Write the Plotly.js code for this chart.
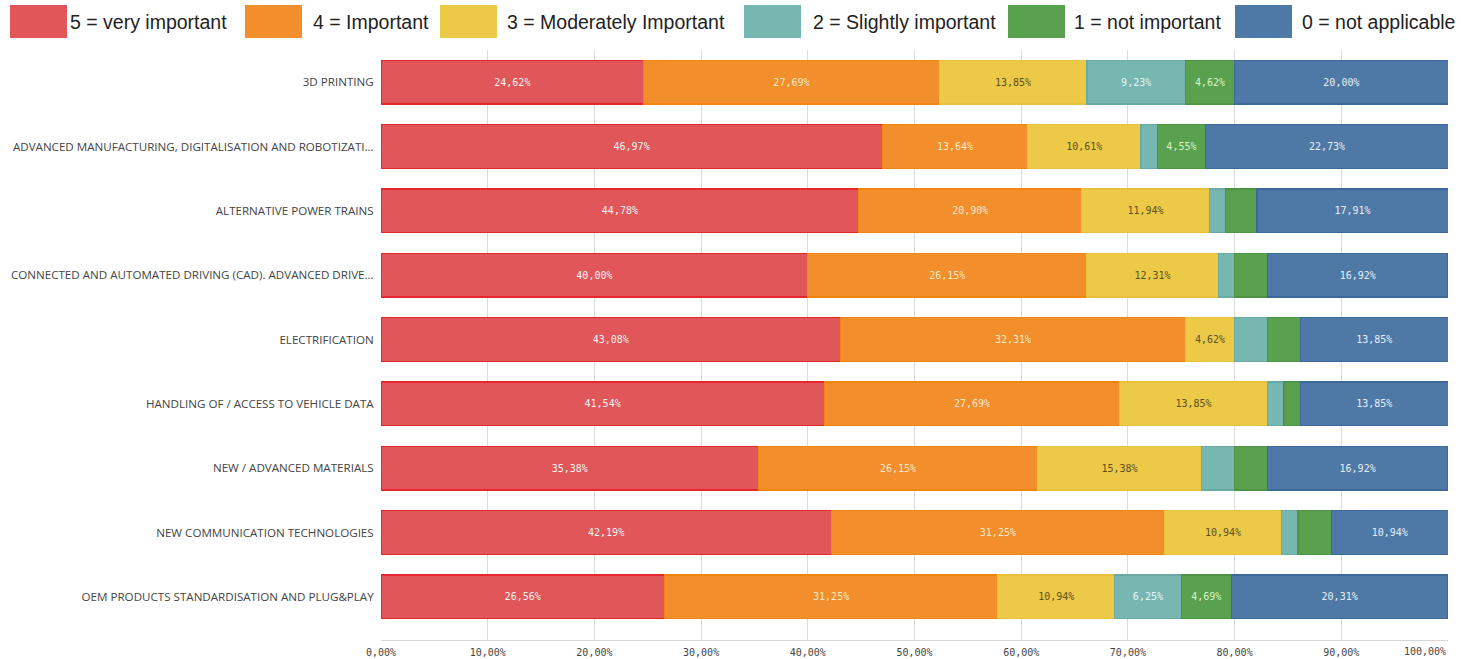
<!DOCTYPE html>
<html>
<head>
<meta charset="utf-8">
<script src="https://cdn.plot.ly/plotly-3.0.1.min.js"></script>
<style>html,body{margin:0;padding:0;background:#fff;}#chart{width:1461px;height:659px;}</style>
</head>
<body>
<div id="chart"></div>
<script>
// ---- data ----
const categories = [
  "3D PRINTING",
  "ADVANCED MANUFACTURING, DIGITALISATION AND ROBOTIZATI...",
  "ALTERNATIVE POWER TRAINS",
  "CONNECTED AND AUTOMATED DRIVING (CAD). ADVANCED DRIVE...",
  "ELECTRIFICATION",
  "HANDLING OF / ACCESS TO VEHICLE DATA",
  "NEW / ADVANCED MATERIALS",
  "NEW COMMUNICATION TECHNOLOGIES",
  "OEM PRODUCTS STANDARDISATION AND PLUG&PLAY"
];
const seriesNames = ["5 = very important", "4 = Important", "3 = Moderately Important",
                     "2 = Slightly important", "1 = not important", "0 = not applicable"];
const veryImportant     = [24.62, 46.97, 44.78, 40.00, 43.08, 41.54, 35.38, 42.19, 26.56];
const important         = [27.69, 13.64, 20.90, 26.15, 32.31, 27.69, 26.15, 31.25, 31.25];
const moderately        = [13.85, 10.61, 11.94, 12.31,  4.62, 13.85, 15.38, 10.94, 10.94];
const slightly          = [ 9.23,  1.52,  1.49,  1.54,  3.08,  1.54,  3.08,  1.56,  6.25];
const notImportant      = [ 4.62,  4.55,  2.99,  3.08,  3.08,  1.54,  3.08,  3.13,  4.69];
const notApplicable     = [20.00, 22.73, 17.91, 16.92, 13.85, 13.85, 16.92, 10.94, 20.31];
const xTickValues = [0, 10, 20, 30, 40, 50, 60, 70, 80, 90, 100];

// ---- styles ----
const colors     = ["#e15759", "#f28e2b", "#edc948", "#76b7b2", "#59a14f", "#4e79a7"];
const lineColors = ["#e8262f", "#f0850f", "#e8c23a", "#6aaaa5", "#4f9445", "#3e6899"];
const textColors = ["#f4f4f4", "#fbe8c8", "#5a5020", "#e6f4f2", "#d8f4c8", "#e8eef8"];
const allSeries = [veryImportant, important, moderately, slightly, notImportant, notApplicable];

const fmt = v => v.toFixed(2).replace('.', ',') + '%';
const monoFont = 'DejaVu Sans Mono, monospace';

const traces = allSeries.map((vals, i) => ({
  type: 'bar',
  orientation: 'h',
  name: seriesNames[i],
  y: categories,
  x: vals,
  marker: {color: colors[i], line: {color: lineColors[i], width: 1.2}},
  text: vals.map(v => v >= 4.5 ? fmt(v) : ''),
  textposition: 'inside',
  insidetextanchor: 'middle',
  textangle: 0,
  constraintext: 'none',
  textfont: {family: monoFont, size: 10, color: textColors[i]},
  hoverinfo: 'x+y+name',
  showlegend: false
}));

// ---- layout ----
const L = 381, R = 13, T = 50, B = 19, W = 1461, H = 659;
const pw = W - L - R, ph = H - T - B;
const px2x = p => (p - L) / pw;
const px2y = p => (H - B - p) / ph;

const legendSwatchX = [10, 245, 440, 744, 1008, 1235];
const legendTextX   = [68, 311, 505, 811, 1072, 1300];
const shapes = [], annotations = [];
seriesNames.forEach((n, i) => {
  shapes.push({type: 'rect', xref: 'paper', yref: 'paper', layer: 'above',
    x0: px2x(legendSwatchX[i]), x1: px2x(legendSwatchX[i] + 57),
    y0: px2y(38), y1: px2y(5),
    fillcolor: colors[i], line: {width: 0}});
  annotations.push({xref: 'paper', yref: 'paper', x: px2x(legendTextX[i]), y: px2y(21.5),
    xanchor: 'left', yanchor: 'middle', showarrow: false, text: n,
    font: {family: '"Liberation Sans Narrow", "Arial Narrow", "Liberation Sans", sans-serif', size: 19.5, color: '#222'}});
});

// last tick label sits right-aligned inside the plot edge
const lastTick = xTickValues[xTickValues.length - 1];
annotations.push({xref: 'x', yref: 'paper', x: lastTick, y: px2y(652), xanchor: 'right', yanchor: 'middle',
  showarrow: false, text: fmt(lastTick), font: {family: monoFont, size: 10, color: '#444'}});

const layout = {
  width: W, height: H,
  margin: {l: L, r: R, t: T, b: B, pad: 0},
  barmode: 'stack',
  bargap: 0.32,
  paper_bgcolor: '#fff',
  plot_bgcolor: '#fff',
  showlegend: false,
  xaxis: {
    range: [0, 100],
    tickvals: xTickValues.slice(0, -1),
    ticktext: xTickValues.slice(0, -1).map(fmt),
    tickfont: {family: monoFont, size: 10, color: '#444'},
    showgrid: true, gridcolor: '#dcdcdc', gridwidth: 1,
    zeroline: false,
    showline: true, linecolor: '#d8d8d8', linewidth: 1,
    ticks: 'outside', ticklen: 3, tickcolor: 'rgba(0,0,0,0)',
    fixedrange: true
  },
  yaxis: {
    type: 'category',
    range: [8.67, -0.5],
    tickfont: {family: '"Open Sans", "Noto Sans", sans-serif', size: 11.6, color: '#444'},
    showgrid: false, zeroline: false, showline: false,
    ticks: 'outside', ticklen: 4, tickcolor: 'rgba(0,0,0,0)',
    fixedrange: true
  },
  shapes: shapes,
  annotations: annotations
};

Plotly.newPlot('chart', traces, layout, {displayModeBar: false, staticPlot: true});
</script>
</body>
</html>
